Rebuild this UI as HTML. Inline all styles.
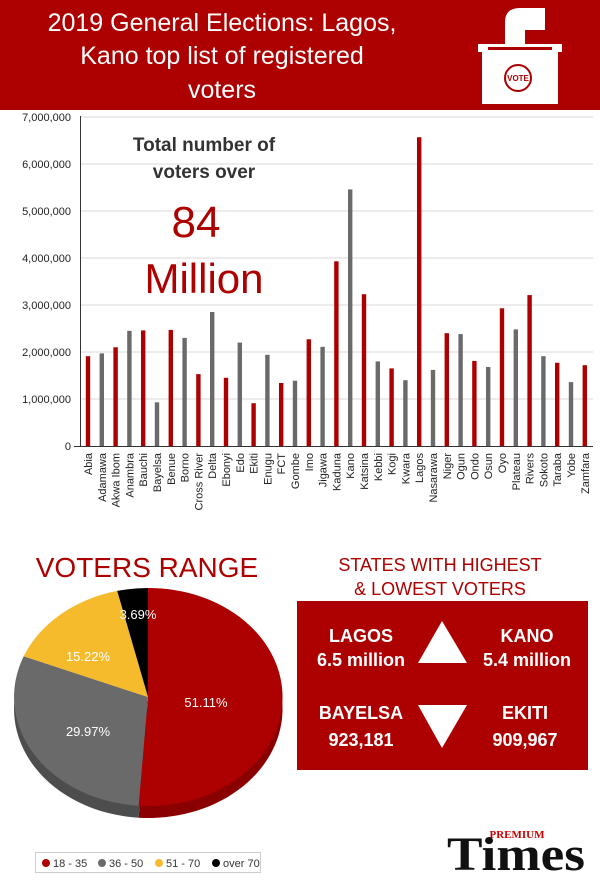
<!DOCTYPE html>
<html><head><meta charset="utf-8"><style>
html,body{margin:0;padding:0;background:#fff}
svg{display:block;font-family:"Liberation Sans",sans-serif}
.r{fill:#ad0000}.g{fill:#6a6a6a}
</style></head><body>
<svg width="600" height="882" viewBox="0 0 600 882" xmlns="http://www.w3.org/2000/svg">
<rect x="0" y="0" width="600" height="110" fill="#ad0000"/>
<g fill="#fff" font-size="25" text-anchor="middle">
<text x="222" y="31">2019 General Elections: Lagos,</text>
<text x="222" y="64">Kano top list of registered</text>
<text x="222" y="98">voters</text>
</g>
<g>
<rect x="482" y="50" width="76" height="54" fill="#fff"/>
<rect x="478" y="44" width="84" height="8" fill="#fff"/>
<rect x="488" y="47" width="64" height="3" fill="#ad0000"/>
<path d="M505 44 L505 22 Q505 8 520 8 L545 8 L545 30 L525 30 L525 44 Z" fill="#fff"/>
<circle cx="518" cy="78" r="13" fill="none" stroke="#ad0000" stroke-width="2"/>
<text x="518" y="81" font-size="8" fill="#ad0000" text-anchor="middle" font-weight="bold">VOTE</text>
</g>
<g stroke="#e6e6e6" stroke-width="1.5">
<line x1="80" x2="593" y1="117" y2="117"/><line x1="80" x2="593" y1="164" y2="164"/>
<line x1="80" x2="593" y1="211" y2="211"/><line x1="80" x2="593" y1="258" y2="258"/>
<line x1="80" x2="593" y1="305" y2="305"/><line x1="80" x2="593" y1="352" y2="352"/>
<line x1="80" x2="593" y1="399" y2="399"/>
</g>
<line x1="80.5" y1="116" x2="80.5" y2="447" stroke="#333"/>
<line x1="74" y1="446.5" x2="593" y2="446.5" stroke="#333"/>
<g font-size="11" fill="#222" text-anchor="end">
<text x="71" y="121">7,000,000</text><text x="71" y="168">6,000,000</text>
<text x="71" y="215">5,000,000</text><text x="71" y="262">4,000,000</text>
<text x="71" y="309">3,000,000</text><text x="71" y="356">2,000,000</text>
<text x="71" y="403">1,000,000</text><text x="71" y="450">0</text>
</g>
<g>
<rect class="r" x="85.8" y="356.2" width="4.4" height="89.8"/>
<rect class="g" x="99.6" y="353.4" width="4.4" height="92.6"/>
<rect class="r" x="113.4" y="347.3" width="4.4" height="98.7"/>
<rect class="g" x="127.2" y="330.8" width="4.4" height="115.2"/>
<rect class="r" x="141.0" y="330.4" width="4.4" height="115.6"/>
<rect class="g" x="154.8" y="402.3" width="4.4" height="43.7"/>
<rect class="r" x="168.6" y="329.9" width="4.4" height="116.1"/>
<rect class="g" x="182.4" y="337.9" width="4.4" height="108.1"/>
<rect class="r" x="196.2" y="374.1" width="4.4" height="71.9"/>
<rect class="g" x="210.0" y="312.0" width="4.4" height="134.0"/>
<rect class="r" x="223.8" y="377.8" width="4.4" height="68.2"/>
<rect class="g" x="237.6" y="342.6" width="4.4" height="103.4"/>
<rect class="r" x="251.4" y="403.2" width="4.4" height="42.8"/>
<rect class="g" x="265.2" y="354.8" width="4.4" height="91.2"/>
<rect class="r" x="279.0" y="383.0" width="4.4" height="63.0"/>
<rect class="g" x="292.8" y="380.7" width="4.4" height="65.3"/>
<rect class="r" x="306.6" y="339.3" width="4.4" height="106.7"/>
<rect class="g" x="320.4" y="346.8" width="4.4" height="99.2"/>
<rect class="r" x="334.2" y="261.3" width="4.4" height="184.7"/>
<rect class="g" x="348.0" y="189.4" width="4.4" height="256.6"/>
<rect class="r" x="361.8" y="294.2" width="4.4" height="151.8"/>
<rect class="g" x="375.6" y="361.4" width="4.4" height="84.6"/>
<rect class="r" x="389.4" y="368.4" width="4.4" height="77.6"/>
<rect class="g" x="403.2" y="380.2" width="4.4" height="65.8"/>
<rect class="r" x="417.0" y="137.2" width="4.4" height="308.8"/>
<rect class="g" x="430.8" y="369.9" width="4.4" height="76.1"/>
<rect class="r" x="444.6" y="333.2" width="4.4" height="112.8"/>
<rect class="g" x="458.4" y="334.1" width="4.4" height="111.9"/>
<rect class="r" x="472.2" y="360.9" width="4.4" height="85.1"/>
<rect class="g" x="486.0" y="367.0" width="4.4" height="79.0"/>
<rect class="r" x="499.8" y="308.3" width="4.4" height="137.7"/>
<rect class="g" x="513.6" y="329.4" width="4.4" height="116.6"/>
<rect class="r" x="527.4" y="295.1" width="4.4" height="150.9"/>
<rect class="g" x="541.2" y="356.2" width="4.4" height="89.8"/>
<rect class="r" x="555.0" y="362.8" width="4.4" height="83.2"/>
<rect class="g" x="568.8" y="382.1" width="4.4" height="63.9"/>
<rect class="r" x="582.6" y="365.2" width="4.4" height="80.8"/>
</g>
<g font-size="11" fill="#222" text-anchor="end">
<text transform="translate(92,453) rotate(-90)">Abia</text>
<text transform="translate(105.8,453) rotate(-90)">Adamawa</text>
<text transform="translate(119.6,453) rotate(-90)">Akwa Ibom</text>
<text transform="translate(133.4,453) rotate(-90)">Anambra</text>
<text transform="translate(147.2,453) rotate(-90)">Bauchi</text>
<text transform="translate(161,453) rotate(-90)">Bayelsa</text>
<text transform="translate(174.8,453) rotate(-90)">Benue</text>
<text transform="translate(188.6,453) rotate(-90)">Borno</text>
<text transform="translate(202.4,453) rotate(-90)">Cross River</text>
<text transform="translate(216.2,453) rotate(-90)">Delta</text>
<text transform="translate(230,453) rotate(-90)">Ebonyi</text>
<text transform="translate(243.8,453) rotate(-90)">Edo</text>
<text transform="translate(257.6,453) rotate(-90)">Ekiti</text>
<text transform="translate(271.4,453) rotate(-90)">Enugu</text>
<text transform="translate(285.2,453) rotate(-90)">FCT</text>
<text transform="translate(299,453) rotate(-90)">Gombe</text>
<text transform="translate(312.8,453) rotate(-90)">Imo</text>
<text transform="translate(326.6,453) rotate(-90)">Jigawa</text>
<text transform="translate(340.4,453) rotate(-90)">Kaduna</text>
<text transform="translate(354.2,453) rotate(-90)">Kano</text>
<text transform="translate(368,453) rotate(-90)">Katsina</text>
<text transform="translate(381.8,453) rotate(-90)">Kebbi</text>
<text transform="translate(395.6,453) rotate(-90)">Kogi</text>
<text transform="translate(409.4,453) rotate(-90)">Kwara</text>
<text transform="translate(423.2,453) rotate(-90)">Lagos</text>
<text transform="translate(437,453) rotate(-90)">Nasarawa</text>
<text transform="translate(450.8,453) rotate(-90)">Niger</text>
<text transform="translate(464.6,453) rotate(-90)">Ogun</text>
<text transform="translate(478.4,453) rotate(-90)">Ondo</text>
<text transform="translate(492.2,453) rotate(-90)">Osun</text>
<text transform="translate(506,453) rotate(-90)">Oyo</text>
<text transform="translate(519.8,453) rotate(-90)">Plateau</text>
<text transform="translate(533.6,453) rotate(-90)">Rivers</text>
<text transform="translate(547.4,453) rotate(-90)">Sokoto</text>
<text transform="translate(561.2,453) rotate(-90)">Taraba</text>
<text transform="translate(575,453) rotate(-90)">Yobe</text>
<text transform="translate(588.8,453) rotate(-90)">Zamfara</text>
</g>
<g text-anchor="middle">
<text x="204" y="151" font-size="19" font-weight="bold" fill="#333">Total number of</text>
<text x="204" y="178" font-size="19" font-weight="bold" fill="#333">voters over</text>
<text x="196" y="237" font-size="44" fill="#ad0000">84</text>
<text x="204" y="293" font-size="42" fill="#ad0000">Million</text>
</g>
<g transform="translate(0,12)">
<path d="M148 697 L148 588 A134 109 0 1 1 138.6 805.7 Z" fill="#8a0000"/>
<path d="M148 697 L138.6 805.7 A134 109 0 0 1 23.7 656.3 Z" fill="#4d4d4d"/>
</g>
<path d="M148 697 L148 588 A134 109 0 1 1 138.6 805.7 Z" fill="#ad0000"/>
<path d="M148 697 L138.6 805.7 A134 109 0 0 1 23.7 656.3 Z" fill="#6a6a6a"/>
<path d="M148 697 L23.7 656.3 A134 109 0 0 1 117.2 590.9 Z" fill="#f6bb2d"/>
<path d="M148 697 L117.2 590.9 A134 109 0 0 1 148 588 Z" fill="#000"/>
<g fill="#fff" font-size="13" text-anchor="middle">
<text x="206" y="707">51.11%</text><text x="88" y="736">29.97%</text>
<text x="88" y="661">15.22%</text><text x="138" y="619">3.69%</text>
</g>
<text x="147" y="577" font-size="28" fill="#ad0000" text-anchor="middle">VOTERS RANGE</text>
<rect x="35.5" y="852.5" width="225" height="20" fill="#fff" stroke="#ccc"/>
<g font-size="11" fill="#333">
<circle cx="46" cy="863" r="4" fill="#ad0000"/><text x="53" y="867">18 - 35</text>
<circle cx="102" cy="863" r="4" fill="#6a6a6a"/><text x="109" y="867">36 - 50</text>
<circle cx="159" cy="863" r="4" fill="#f6bb2d"/><text x="166" y="867">51 - 70</text>
<circle cx="216" cy="863" r="4" fill="#000"/><text x="223" y="867">over 70</text>
</g>
<g fill="#ad0000" font-size="18" text-anchor="middle">
<text x="440" y="571">STATES WITH HIGHEST</text>
<text x="440" y="595">&amp; LOWEST VOTERS</text>
</g>
<rect x="297" y="601" width="291" height="169" fill="#ad0000"/>
<g fill="#fff" font-size="18" font-weight="bold" text-anchor="middle">
<text x="361" y="642">LAGOS</text><text x="361" y="666">6.5 million</text>
<text x="527" y="642">KANO</text><text x="527" y="666">5.4 million</text>
<text x="361" y="719">BAYELSA</text><text x="361" y="746">923,181</text>
<text x="525" y="719">EKITI</text><text x="525" y="746">909,967</text>
</g>
<polygon points="442,621 467,663 418,663" fill="#fff"/>
<polygon points="418,705 467,705 442,748" fill="#fff"/>
<text x="517" y="838" font-size="11" font-weight="bold" fill="#c00" font-family="Liberation Serif,serif" text-anchor="middle">PREMIUM</text>
<text x="516" y="870" font-size="48" font-weight="bold" fill="#111" font-family="Liberation Serif,serif" text-anchor="middle" textLength="138" lengthAdjust="spacingAndGlyphs">Times</text>
</svg>
</body></html>
